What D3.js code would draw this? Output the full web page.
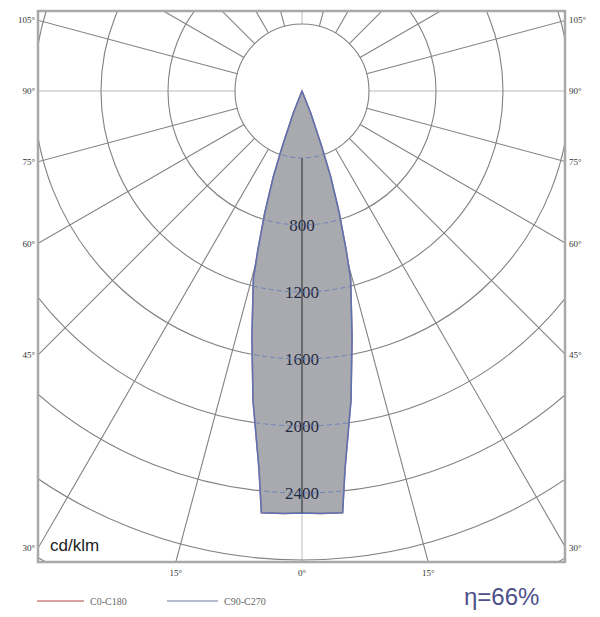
<!DOCTYPE html>
<html>
<head>
<meta charset="utf-8">
<script src="https://cdn.jsdelivr.net/npm/d3@7"></script>
<style>
  body { margin: 0; background: #fff; }
  svg { display: block; }
</style>
</head>
<body>
<script>
// gamma angles (deg from nadir) and intensities in cd/klm
var gammas = [0, 2.5, 5.5, 6.5, 9, 11.5, 14.5, 15.5, 17, 18.5, 19.5, 21.5, 24];
var c0c180 = [2520, 2525, 2530, 2270, 1870, 1500, 1160, 990, 760, 540, 360, 140, 0];
var c90c270 = [2520, 2525, 2530, 2270, 1870, 1500, 1160, 990, 760, 540, 360, 140, 0];

var rings = [400, 800, 1200, 1600, 2000, 2400, 2800, 3200, 3600];
var ringLabels = [800, 1200, 1600, 2000, 2400];
var spokes = d3.range(0, 360, 15);
var sideTicks = [30, 45, 60, 75, 90, 105];
var bottomTicks = [-15, 0, 15];

var w = 600, h = 617;
var ox = 302, oy = 91;
var frame = { left: 38, right: 565, top: 11, bottom: 562 };

var r = d3.scaleLinear().domain([0, 400]).range([0, 67]);
var rad = function (deg) { return deg * Math.PI / 180; };

var svg = d3.select("body").append("svg")
    .attr("width", w)
    .attr("height", h);

var defs = svg.append("defs");
defs.append("clipPath").attr("id", "frameClip")
    .append("rect")
    .attr("x", frame.left).attr("y", frame.top)
    .attr("width", frame.right - frame.left)
    .attr("height", frame.bottom - frame.top);

// closed curve: left half (C180 / C270) then right half (C0 / C90)
function curvePoints(vals) {
    var pts = [];
    for (var i = gammas.length - 1; i >= 0; i--) pts.push([-gammas[i], vals[i]]);
    for (var j = 1; j < gammas.length; j++) pts.push([gammas[j], vals[j]]);
    return pts;
}

var line = d3.lineRadial()
    .angle(function (d) { return Math.PI - rad(d[0]); })
    .radius(function (d) { return r(d[1]); })
    .curve(d3.curveLinear);

defs.append("clipPath").attr("id", "beamClip")
    .append("path")
    .attr("transform", "translate(" + ox + "," + oy + ")")
    .attr("d", line(curvePoints(c0c180)) + "Z");

var grid = svg.append("g").attr("clip-path", "url(#frameClip)");
var g = grid.append("g").attr("transform", "translate(" + ox + "," + oy + ")");

// spokes (from the 400 ring outward)
g.selectAll("line.spoke")
    .data(spokes)
    .enter()
    .append("line")
    .attr("class", "spoke")
    .attr("x1", function (d) { return r(400) * Math.sin(rad(d)); })
    .attr("y1", function (d) { return r(400) * Math.cos(rad(d)); })
    .attr("x2", function (d) { return 900 * Math.sin(rad(d)); })
    .attr("y2", function (d) { return 900 * Math.cos(rad(d)); })
    .attr("stroke", function (d) { return d % 90 === 0 ? "#d2d2d2" : "#828282"; })
    .attr("stroke-width", function (d) { return d % 90 === 0 ? 1.5 : 1.1; });

// rings
g.selectAll("circle.ring")
    .data(rings)
    .enter()
    .append("circle")
    .attr("class", "ring")
    .attr("r", function (d) { return r(d); })
    .attr("fill", "none")
    .attr("stroke", "#828282")
    .attr("stroke-width", 1.1);

// beam
var beam = svg.append("g").attr("transform", "translate(" + ox + "," + oy + ")");
beam.append("path")
    .attr("d", line(curvePoints(c0c180)) + "Z")
    .attr("fill", "#a8aaaf")
    .attr("stroke", "#c07070")
    .attr("stroke-width", 1.5);

var inside = svg.append("g").attr("clip-path", "url(#beamClip)")
    .append("g").attr("transform", "translate(" + ox + "," + oy + ")");
inside.selectAll("circle")
    .data(rings)
    .enter()
    .append("circle")
    .attr("r", function (d) { return r(d); })
    .attr("fill", "none")
    .attr("stroke", "#6f83b8")
    .attr("stroke-width", 1)
    .attr("stroke-dasharray", "5,3");
inside.append("line")
    .attr("x1", 0).attr("y1", r(400))
    .attr("x2", 0).attr("y2", r(3000))
    .attr("stroke", "#555")
    .attr("stroke-width", 1.5);

beam.append("path")
    .attr("d", line(curvePoints(c90c270)) + "Z")
    .attr("fill", "none")
    .attr("stroke", "#5874b6")
    .attr("stroke-width", 1.5)
    .attr("stroke-linejoin", "round");

// intensity labels
beam.selectAll("text.val")
    .data(ringLabels)
    .enter()
    .append("text")
    .attr("class", "val")
    .attr("x", 0)
    .attr("y", function (d) { return r(d); })
    .attr("dy", "0.35em")
    .attr("text-anchor", "middle")
    .attr("font-family", "Liberation Serif, serif")
    .attr("font-size", 17)
    .attr("fill", "#1f2841")
    .text(function (d) { return d; });

// frame
svg.append("rect")
    .attr("x", frame.left).attr("y", frame.top)
    .attr("width", frame.right - frame.left)
    .attr("height", frame.bottom - frame.top)
    .attr("fill", "none")
    .attr("stroke", "#a9a9a9")
    .attr("stroke-width", 2.5);

// side angle labels
var sideY = function (d) {
    var t = (ox - frame.left) / Math.sin(rad(d));
    return oy + t * Math.cos(rad(d));
};
var labelFont = "Liberation Serif, serif";
[["left", frame.left - 3, "end"], ["right", frame.right + 4, "start"]].forEach(function (s) {
    svg.selectAll("text.side-" + s[0])
        .data(sideTicks)
        .enter()
        .append("text")
        .attr("class", "side-" + s[0])
        .attr("x", s[1])
        .attr("y", function (d) { return Math.max(sideY(d), 18); })
        .attr("dy", "0.35em")
        .attr("text-anchor", s[2])
        .attr("font-family", labelFont)
        .attr("font-size", 9)
        .attr("fill", "#333")
        .text(function (d) { return d + "°"; });
});

svg.selectAll("text.bottom")
    .data(bottomTicks)
    .enter()
    .append("text")
    .attr("class", "bottom")
    .attr("x", function (d) {
        return ox + (frame.bottom - oy) * Math.tan(rad(d));
    })
    .attr("y", frame.bottom + 14)
    .attr("text-anchor", "middle")
    .attr("font-family", labelFont)
    .attr("font-size", 9)
    .attr("fill", "#333")
    .text(function (d) { return Math.abs(d) + "°"; });

// unit
svg.append("text")
    .attr("x", 50).attr("y", 551)
    .attr("font-family", "Liberation Sans, Arial, sans-serif")
    .attr("font-size", 17)
    .attr("fill", "#222")
    .text("cd/klm");

// legend
var legend = [
    { name: "C0-C180", color: "#c98282", x1: 37, x2: 84, tx: 90 },
    { name: "C90-C270", color: "#9ea3c4", x1: 167, x2: 218, tx: 224 }
];
legend.forEach(function (l) {
    svg.append("line")
        .attr("x1", l.x1).attr("x2", l.x2)
        .attr("y1", 601).attr("y2", 601)
        .attr("stroke", l.color)
        .attr("stroke-width", 1.5);
    svg.append("text")
        .attr("x", l.tx).attr("y", 601)
        .attr("dy", "0.35em")
        .attr("font-family", labelFont)
        .attr("font-size", 10)
        .attr("fill", "#666")
        .text(l.name);
});

svg.append("text")
    .attr("x", 464).attr("y", 605)
    .attr("font-family", "Liberation Sans, Arial, sans-serif")
    .attr("font-size", 24)
    .attr("fill", "#4d4f8a")
    .text("η=66%");
</script>
</body>
</html>
